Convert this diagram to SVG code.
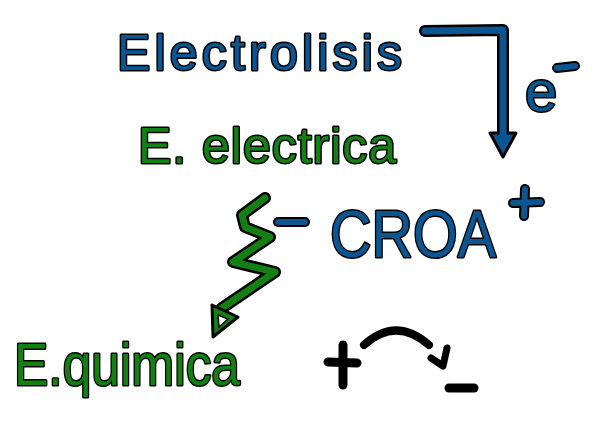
<svg xmlns="http://www.w3.org/2000/svg" width="594" height="426" viewBox="0 0 594 426">
<style>
.t{font-family:"Liberation Sans","DejaVu Sans",sans-serif;stroke:#000;stroke-width:3;paint-order:stroke;stroke-linejoin:round}
.blue{fill:#0b5591}
.green{fill:#148014}
.bl{fill:none;stroke:#0b5591;stroke-linecap:round;stroke-linejoin:round}
.bk{fill:none;stroke:#000;stroke-linecap:round;stroke-linejoin:round}
.gr{fill:none;stroke:#148014;stroke-linecap:round;stroke-linejoin:round}
</style>
<rect width="594" height="426" fill="#fff"/>
<g id="electrolisis"><text class="t blue" x="117" y="70" font-size="50" textLength="285" lengthAdjust="spacing">Electrolisis</text></g>
<g id="e-electrica"><text class="t green" x="138" y="163" font-size="50" textLength="258" lengthAdjust="spacing">E. electrica</text></g>
<g id="croa">
<text class="t blue" x="330" y="257" font-size="66" textLength="166" lengthAdjust="spacingAndGlyphs">CROA</text>
<path class="bk" stroke-width="10" d="M278 222 L305 222"/><path class="bl" stroke-width="6" d="M278 222 L305 222"/>
<path class="bk" stroke-width="10" d="M513 203 L540 202 M525 189 L524 216"/><path class="bl" stroke-width="6" d="M513 203 L540 202 M525 189 L524 216"/>
</g>
<g id="e-quimica"><text class="t green" x="14" y="385" font-size="60" textLength="226" lengthAdjust="spacingAndGlyphs">E.quimica</text></g>
<g id="electron">
<text class="t blue" x="525" y="111" font-size="58">e</text>
<path class="bk" stroke-width="10" d="M557 68 L575 66"/><path class="bl" stroke-width="6" d="M557 68 L575 66"/>
</g>
<g id="connectors">
<g id="blue-arrow">
<path class="bk" stroke-width="12" d="M425 31 L503 30 L503 140"/>
<path d="M490 133 L516 133 L503 157 Z" fill="#0b5591" stroke="#000" stroke-width="3" stroke-linejoin="round"/>
<path class="bl" stroke-width="7" d="M425 31 L503 30 L503 138"/>
</g>
<g id="green-zigzag">
<path class="bk" stroke-width="12" d="M265 198 L242 215 L245 227 L270 237 L233 262 L275 272 L222 308"/>
<path class="gr" stroke-width="7" d="M265 198 L242 215 L245 227 L270 237 L233 262 L275 272 L222 308"/>
<path d="M212 305 L213 337 L238 317 Z" fill="#148014" stroke="#000" stroke-width="3" stroke-linejoin="round"/>
<path d="M218 315 L219 327 L228 319 Z" fill="#fff" stroke="#000" stroke-width="1.5"/>
</g>
<g id="black-sign">
<path class="bk" stroke-width="9" d="M328 362 L357 363 M343 345 L343 385"/>
<path class="bk" stroke-width="8" d="M364 345 Q396 316 429 345"/>
<path class="bk" stroke-width="7" d="M431 358 L443 366 L447 348"/>
<path class="bk" stroke-width="9" d="M449 388 L474 388"/>
</g>
</g>
</svg>
